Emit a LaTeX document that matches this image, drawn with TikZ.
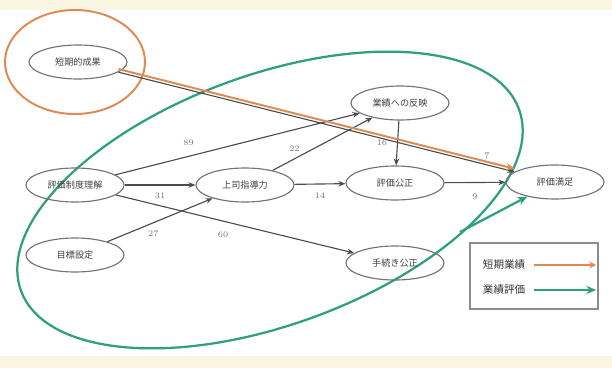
\documentclass[tikz,border=0pt]{standalone}
\usepackage{fontspec}
\newfontfamily\jp{Noto Sans CJK JP}
\usetikzlibrary{positioning,shapes.geometric,arrows.meta}
\definecolor{cream}{HTML}{FBF6E2}
\definecolor{orangeline}{HTML}{DE8A52}
\definecolor{greenline}{HTML}{2FA07E}

\begin{document}
\begin{tikzpicture}[x=0.025cm,y=-0.025cm,
    var/.style={ellipse,draw=black!55,thick,minimum width=2.45cm,minimum height=0.85cm,
      inner sep=0pt,font=\jp\fontsize{6.5}{8}\selectfont,text=black!75},
    link/.style={draw=black!70,thick,-{Stealth[length=5pt,width=4pt]}},
    coef/.style={font=\fontsize{6}{7}\selectfont,text=black!55,inner sep=1pt},
    key/.style={font=\jp\fontsize{7.5}{9}\selectfont,text=black!80,anchor=west}]
          \useasboundingbox (0,0) rectangle (612,368);
          \fill[cream] (0,0) rectangle (612,10);
          \fill[cream] (0,356) rectangle (612,368);

          % groups
          \draw[greenline, line width=1.6pt] (270,200) ellipse [x radius=265, y radius=125, rotate=20];
          \draw[orangeline, line width=1.4pt] (75,62) ellipse [x radius=70, y radius=52];

          \node[var] (A) at (78,62) {短期的成果};
          \node[var] (B) at (400,103) {業績への反映};
          \node[var] (C) at (75,185) {評価制度理解};
          \node[var] (D) at (245,185) {上司指導力};
          \node[var] (E) at (395,183) {評価公正};
          \node[var] (F) at (555,182) {評価満足};
          \node[var] (G) at (75,255) {目標設定};
          \node[var] (H) at (395,263) {手続き公正};

          \draw[link] (C) -- (B) node[coef,pos=0.3,above=6pt] {89};
          \draw[link] (C) -- (D) node[coef,midway,below=4pt] {31};
          \draw[link] (C) -- (H) node[coef,pos=0.45,below=6pt] {60};
          \draw[link] (G) -- (D) node[coef,pos=0.35,below right=2pt] {27};
          \draw[link] (D) -- (B) node[coef,pos=0.3,above left=1pt] {22};
          \draw[link] (D) -- (E) node[coef,midway,below=5pt] {14};
          \draw[link] (B) -- (E) node[coef,midway,left=6pt] {16};
          \draw[link] (E) -- (F) node[coef,midway,below=7pt] {9};
          \draw[link] (A) -- (F) node[coef,pos=0.93,above=3pt] {7};
          \draw[orangeline, line width=1.4pt, -{Stealth[length=6pt,width=5pt]},
            transform canvas={yshift=2.2pt}] (A) -- (F);

          \coordinate (S) at (460,232);
          \draw[greenline, line width=1.6pt, -{Stealth[length=7pt,width=6pt]}] (S) -- (F);

          % legend
          \node[draw=black!45, thick, minimum width=3.2cm, minimum height=1.65cm] (L) at (534,276) {};
          \node[key] (L1) at (478,265) {短期業績};
          \node[key] (L2) at (478,290) {業績評価};
          \draw[orangeline, line width=1.4pt, -{Stealth[length=5pt,width=5pt]}] (L1.east) ++(4,0) -- ++(62,0);
          \draw[greenline, line width=1.6pt, -{Stealth[length=7pt,width=6pt]}] (L2.east) ++(4,0) -- ++(62,0);
        \end{tikzpicture}
\end{document}
